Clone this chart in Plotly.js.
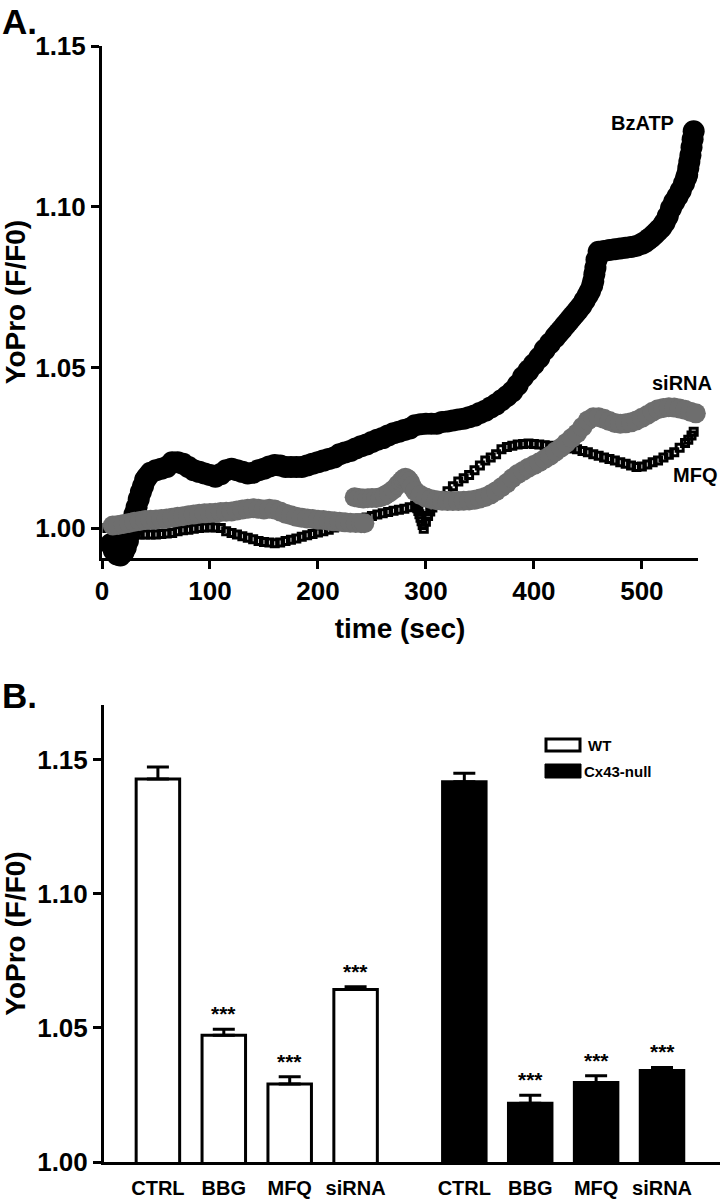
<!DOCTYPE html>
<html>
<head>
<meta charset="utf-8">
<script src="https://cdn.plot.ly/plotly-3.0.1.min.js"></script>
<style>
  html, body { margin: 0; padding: 0; background: #fff; }
  #chart { width: 722px; height: 1199px; }
</style>
</head>
<body>
<div id="chart"></div>
<script>
// ---------- Panel A data (time course) ----------
const timeBzATP = [8,11,14,17,20,22,24,26,28,30,32,34,36,38,40,42,45,50,55,60,65,70,75,80,85,90,95,100,105,110,115,120,125,130,135,140,145,150,155,160,165,170,175,180,185,190,195,200,205,210,215,220,225,230,235,240,245,250,255,260,265,270,275,280,285,290,295,300,305,310,315,320,325,330,335,340,345,350,355,360,365,370,375,380,385,390,395,400,405,410,415,420,423,426,429,432,435,438,441,444,447,450,452,454,455,456,457,458,460,465,470,475,480,485,490,495,500,503,506,509,512,515,518,521,524,527,530,533,536,539,541,542,543,544,545,546,547,548];
const valBzATP = [0.995,0.993,0.9918,0.9915,0.9925,0.994,0.996,0.9985,1.0015,1.0043,1.0065,1.009,1.0112,1.013,1.015,1.016,1.0172,1.018,1.0185,1.019,1.0205,1.0205,1.020,1.019,1.018,1.0175,1.017,1.0165,1.016,1.0168,1.018,1.0185,1.018,1.0175,1.017,1.0172,1.018,1.0185,1.0192,1.0196,1.0195,1.019,1.019,1.019,1.019,1.0195,1.020,1.0205,1.021,1.0215,1.022,1.023,1.0235,1.024,1.0248,1.0255,1.026,1.0268,1.0275,1.028,1.0288,1.0295,1.030,1.0305,1.031,1.032,1.0323,1.0325,1.0325,1.0325,1.033,1.0332,1.0335,1.0338,1.034,1.0345,1.035,1.0358,1.0365,1.0375,1.0385,1.0398,1.041,1.0425,1.0445,1.047,1.049,1.051,1.053,1.0555,1.0575,1.0595,1.0607,1.0619,1.0631,1.0643,1.0655,1.0667,1.0679,1.0692,1.0708,1.0725,1.0738,1.0755,1.0768,1.079,1.081,1.0835,1.086,1.0862,1.0865,1.0868,1.087,1.0872,1.0875,1.0878,1.0885,1.089,1.0898,1.0906,1.0915,1.0925,1.0935,1.095,1.097,1.0995,1.1015,1.1032,1.105,1.1072,1.109,1.110,1.112,1.114,1.116,1.1185,1.121,1.1235];

const timeSiRNA = [10,15,20,25,30,35,40,45,50,55,60,65,70,75,80,85,90,95,100,105,110,115,120,125,130,135,140,145,150,155,160,165,170,175,180,185,190,195,200,205,210,215,220,225,230,235,240,243,
  234,238,242,246,250,254,258,262,266,270,274,277,279,281,283,285,287,290,295,300,305,310,315,320,325,330,335,340,345,350,355,360,365,370,375,380,385,390,395,400,405,410,415,420,425,430,435,440,445,450,455,460,465,470,475,480,485,490,495,500,505,510,515,520,525,530,535,540,545,550];
const valSiRNA = [1.0008,1.001,1.0013,1.0016,1.002,1.0022,1.0025,1.0026,1.0027,1.0028,1.003,1.0032,1.0035,1.0037,1.004,1.0042,1.0045,1.0046,1.0047,1.0048,1.005,1.0051,1.0052,1.0055,1.0058,1.006,1.0062,1.006,1.0058,1.006,1.0058,1.0052,1.0045,1.004,1.0035,1.0032,1.003,1.0028,1.0026,1.0025,1.0023,1.0021,1.002,1.0018,1.0017,1.0016,1.0015,1.0015,
  1.0096,1.0094,1.0092,1.0093,1.0094,1.0094,1.0096,1.0102,1.011,1.012,1.0135,1.0145,1.0152,1.0157,1.0153,1.0145,1.013,1.0115,1.0103,1.0095,1.009,1.0087,1.0085,1.0084,1.0084,1.0084,1.0085,1.0086,1.0088,1.0092,1.0097,1.0105,1.0115,1.0127,1.014,1.0155,1.0168,1.0178,1.0188,1.0196,1.0205,1.0215,1.0225,1.0238,1.025,1.0265,1.028,1.0295,1.0315,1.0335,1.0345,1.0345,1.034,1.0333,1.0327,1.0325,1.0326,1.0329,1.0335,1.0343,1.0352,1.0362,1.037,1.0374,1.0376,1.0375,1.0372,1.0368,1.0362,1.0357];

const timeMFQ = [5,10,15,20,25,30,35,40,45,50,55,60,65,70,75,80,85,90,95,100,105,110,115,120,125,130,135,140,145,150,155,160,165,170,175,180,185,190,195,200,205,210,215,220,225,230,235,240,245,250,255,260,265,270,275,280,285,290,292,293,294,295,296,297,298,300,302,304,306,308,310,315,320,325,330,335,340,345,350,355,360,365,370,375,380,385,390,395,400,405,410,415,420,425,430,435,440,445,450,455,460,465,470,475,480,485,490,495,500,505,510,515,520,525,530,535,540,543,546,548];
const valMFQ = [1.000,0.9995,0.999,0.9985,0.998,0.998,0.998,0.998,0.998,0.998,0.9982,0.9983,0.9985,0.999,0.9993,0.9995,0.9998,1.000,1.0002,1.0003,1.0002,1.000,0.999,0.9985,0.998,0.9975,0.997,0.9965,0.996,0.9957,0.9955,0.9953,0.9955,0.996,0.9964,0.9968,0.9973,0.9978,0.9982,0.9986,0.999,0.9995,1.0002,1.001,1.0015,1.002,1.0025,1.003,1.0033,1.0038,1.0042,1.0046,1.005,1.0054,1.0057,1.006,1.0065,1.007,1.0062,1.0053,1.0043,1.0032,1.0021,1.001,0.9998,1.002,1.0038,1.0052,1.0064,1.0074,1.0085,1.010,1.0115,1.013,1.0145,1.0155,1.0165,1.018,1.0195,1.021,1.022,1.023,1.0245,1.0252,1.0256,1.026,1.0262,1.0263,1.0262,1.026,1.0258,1.0256,1.0254,1.0252,1.025,1.0248,1.0245,1.024,1.0236,1.023,1.0225,1.022,1.0215,1.021,1.0205,1.020,1.0195,1.019,1.0192,1.0198,1.0205,1.021,1.022,1.0228,1.0236,1.025,1.0265,1.0275,1.0288,1.030];

const seriesLabels = ['BzATP', 'siRNA', 'MFQ'];
const xTicksA = [0, 100, 200, 300, 400, 500];
const yTicks = [1.00, 1.05, 1.10, 1.15];

// ---------- Panel B data (bar means) ----------
const categories = ['CTRL', 'BBG', 'MFQ', 'siRNA'];
const groups = ['WT', 'Cx43-null'];
const wtMeans = [1.1429, 1.0473, 1.0291, 1.0644];
const wtErr = [0.0045, 0.0022, 0.0027, 0.0010];
const cxMeans = [1.1419, 1.0219, 1.0297, 1.0341];
const cxErr = [0.0031, 0.0030, 0.0025, 0.0012];
const wtSig = ['', '***', '***', '***'];
const cxSig = ['', '***', '***', '***'];

// ---------- geometry helpers ----------
const W = 722, H = 1199, ML = 100, MR = 0, MT = 40, MB = 10;
const PW = W - ML - MR, PH = H - MT - MB;
const fx = px => (px - ML) / PW;
const fy = py => 1 - (py - MT) / PH;

const FONT = 'Liberation Sans, Arial, Helvetica, sans-serif';
const groupGap = 1.65;
const wtPos = categories.map((c, i) => i);
const cxPos = categories.map((c, i) => i + categories.length - 1 + groupGap);

const traces = [
  { type: 'scatter', mode: 'markers', name: seriesLabels[2], x: timeMFQ, y: valMFQ,
    xaxis: 'x', yaxis: 'y', cliponaxis: false,
    marker: { symbol: 'square-open', size: 7, color: '#000', line: { color: '#000', width: 3 } } },
  { type: 'scatter', mode: 'markers', name: seriesLabels[0], x: timeBzATP, y: valBzATP,
    xaxis: 'x', yaxis: 'y', cliponaxis: false,
    marker: { symbol: 'circle', size: 22, color: '#000', line: { width: 0 } } },
  { type: 'scatter', mode: 'markers', name: seriesLabels[1], x: timeSiRNA, y: valSiRNA,
    xaxis: 'x', yaxis: 'y', cliponaxis: false,
    marker: { symbol: 'circle', size: 20, color: '#6e6e6e', line: { width: 0 } } },
  { type: 'bar', name: groups[0], x: wtPos, y: wtMeans, xaxis: 'x2', yaxis: 'y2', width: 0.66,
    marker: { color: '#fff', line: { color: '#000', width: 3 } },
    error_y: { type: 'data', symmetric: false, array: wtErr, arrayminus: [0, 0, 0, 0], color: '#000', thickness: 3, width: 11 } },
  { type: 'bar', name: groups[1], x: cxPos, y: cxMeans, xaxis: 'x2', yaxis: 'y2', width: 0.66,
    marker: { color: '#000', line: { color: '#000', width: 3 } },
    error_y: { type: 'data', symmetric: false, array: cxErr, arrayminus: [0, 0, 0, 0], color: '#000', thickness: 3, width: 11 } }
];

const axisCommon = {
  showline: true, linewidth: 3, linecolor: '#000', showgrid: false, zeroline: false,
  ticks: 'outside', ticklen: 8, tickwidth: 3, tickcolor: '#000',
  tickfont: { family: FONT, size: 26, color: '#000', weight: 'bold' }
};
const titleFont = { family: FONT, size: 28, color: '#000', weight: 'bold' };

const annotations = [];
// series labels in panel A
annotations.push({ xref: 'x', yref: 'y', x: 501, y: 1.126, text: seriesLabels[0], showarrow: false,
  font: { family: FONT, size: 20, color: '#000', weight: 'bold' } });
annotations.push({ xref: 'x', yref: 'y', x: 537, y: 1.045, text: seriesLabels[1], showarrow: false,
  font: { family: FONT, size: 20, color: '#000', weight: 'bold' } });
annotations.push({ xref: 'x', yref: 'y', x: 549, y: 1.0165, text: seriesLabels[2], showarrow: false,
  font: { family: FONT, size: 20, color: '#000', weight: 'bold' } });
// significance stars
const starFont = { family: FONT, size: 21, color: '#000', weight: 'bold' };
wtSig.forEach((s, i) => { if (s) annotations.push({ xref: 'x2', yref: 'y2', x: wtPos[i], y: wtMeans[i] + wtErr[i], text: s,
  showarrow: false, yanchor: 'bottom', yshift: 2, font: starFont }); });
cxSig.forEach((s, i) => { if (s) annotations.push({ xref: 'x2', yref: 'y2', x: cxPos[i], y: cxMeans[i] + cxErr[i], text: s,
  showarrow: false, yanchor: 'bottom', yshift: 2, font: starFont }); });
// panel letters
annotations.push({ xref: 'paper', yref: 'paper', x: fx(0), y: fy(0), xanchor: 'left', yanchor: 'top', text: 'A.', showarrow: false,
  font: { family: FONT, size: 35, color: '#000', weight: 'bold' } });
annotations.push({ xref: 'paper', yref: 'paper', x: fx(0), y: fy(674), xanchor: 'left', yanchor: 'top', text: 'B.', showarrow: false,
  font: { family: FONT, size: 35, color: '#000', weight: 'bold' } });
// legend text
annotations.push({ xref: 'paper', yref: 'paper', x: fx(586), y: fy(745), xanchor: 'left', yanchor: 'middle', text: groups[0], showarrow: false,
  font: { family: FONT, size: 15, color: '#000', weight: 'bold' } });
annotations.push({ xref: 'paper', yref: 'paper', x: fx(582), y: fy(771), xanchor: 'left', yanchor: 'middle', text: groups[1], showarrow: false,
  font: { family: FONT, size: 15, color: '#000', weight: 'bold' } });

const shapes = [
  { type: 'rect', xref: 'paper', yref: 'paper', x0: fx(546), x1: fx(580), y0: fy(751), y1: fy(739),
    fillcolor: '#fff', line: { color: '#000', width: 3 } },
  { type: 'rect', xref: 'paper', yref: 'paper', x0: fx(545), x1: fx(581), y0: fy(778), y1: fy(764),
    fillcolor: '#000', line: { color: '#000', width: 1 } }
];

const layout = {
  width: W, height: H,
  margin: { l: ML, r: MR, t: MT, b: MB },
  paper_bgcolor: '#fff', plot_bgcolor: 'rgba(0,0,0,0)',
  showlegend: false,
  font: { family: FONT, color: '#000' },
  xaxis: Object.assign({}, axisCommon, {
    domain: [fx(102), fx(698)], range: [0, 552], anchor: 'y', tickvals: xTicksA,
    title: { text: 'time (sec)', font: titleFont, standoff: 14 }
  }),
  yaxis: Object.assign({}, axisCommon, {
    domain: [fy(558), fy(46)], range: [0.9907, 1.15], anchor: 'x', tickvals: yTicks, tickformat: '.2f',
    title: { text: 'YoPro (F/F0)', font: titleFont, standoff: 10 }
  }),
  xaxis2: Object.assign({}, axisCommon, {
    domain: [fx(104), fx(720)], range: [-0.818, 8.53], anchor: 'y2',
    ticks: '', tickvals: wtPos.concat(cxPos), ticktext: categories.concat(categories),
    ticklabelstandoff: 6,
    tickfont: { family: FONT, size: 20, color: '#000', weight: 'bold' }
  }),
  yaxis2: Object.assign({}, axisCommon, {
    domain: [fy(1162), fy(705)], range: [1.0, 1.1705], anchor: 'x2', tickvals: yTicks, tickformat: '.2f',
    title: { text: 'YoPro (F/F0)', font: titleFont, standoff: 10 }
  }),
  annotations: annotations,
  shapes: shapes
};

Plotly.newPlot('chart', traces, layout, { staticPlot: true, displayModeBar: false });
</script>
</body>
</html>
